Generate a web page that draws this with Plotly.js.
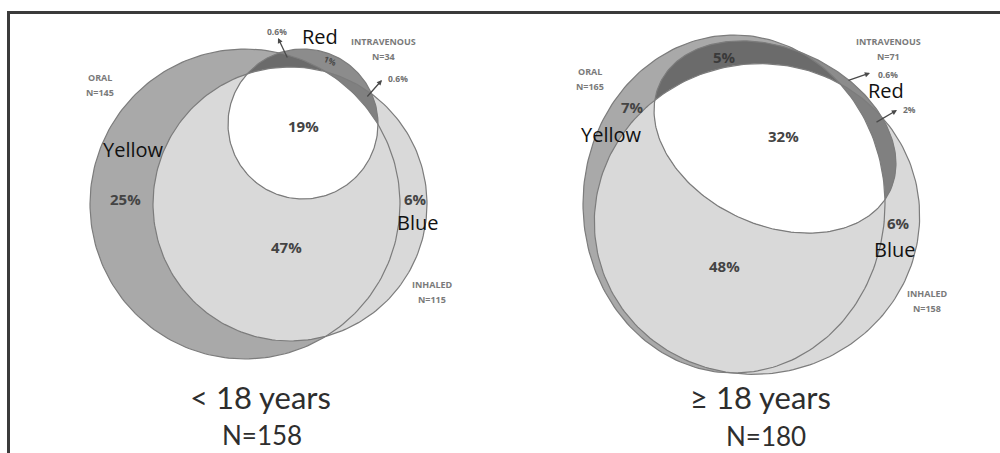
<!DOCTYPE html>
<html><head><meta charset="utf-8">
<script src="https://cdn.plot.ly/plotly-3.0.1.min.js"></script>
<style>html,body{margin:0;padding:0;background:#fff}#chart{width:1000px;height:453px}</style>
</head><body><div id="chart"></div>
<script>
// ---------------- data ----------------
const setNames = ['ORAL', 'INHALED', 'INTRAVENOUS'];
const colourTags = ['Yellow', 'Blue', 'Red'];
const panelTitles = ['< 18 years', '≥ 18 years'];
const panelTotals = [158, 180];
const setCountsYoung = [145, 115, 34];
const setCountsAdult = [165, 158, 71];
// region order: oralOnly, oral∩inhaled, inhaledOnly, all three, ivOnly, iv∩oral, iv∩inhaled
const regionKeys = ['oralOnly', 'oralInhaled', 'inhaledOnly', 'all', 'ivOnly', 'ivOral', 'ivInhaled'];
const sharesYoung = [25, 47, 6, 19, 1, 0.6, 0.6];
const sharesAdult = [7, 48, 6, 32, 0.6, 5, 2];

// ---------------- layout geometry (pixel-like axis units) ----------------
const panels = [
  {
    counts: setCountsYoung, shares: sharesYoung, title: panelTitles[0], total: panelTotals[0],
    shapes: {
      oral: {cx: 245, cy: 204, rx: 155, ry: 155, rot: 0},
      inhaled: {cx: 290, cy: 204, rx: 137, ry: 137, rot: 0},
      iv: {cx: 303, cy: 124, rx: 75, ry: 75, rot: 0}
    },
    setLabelPos: [[100, 77], [432, 284], [383, 41]],
    regionPos: {
      oralOnly: [125, 199, 15, 0, '#444444'], oralInhaled: [286, 247, 15, 0, '#444444'], inhaledOnly: [415, 199, 15, 0, '#444444'],
      all: [303, 126, 15, 0, '#444444'], ivOnly: [330, 60, 8.5, 22, '#4a4a4a'], ivOral: [277, 31, 8.5, 0, '#6f6f6f'], ivInhaled: [398, 78, 8.5, 0, '#6f6f6f']
    },
    arrows: {ivOral: [[288, 59], [278, 38]], ivInhaled: [[366, 98], [382, 80]]},
    tagPos: [[133, 149], [417, 222], [320, 36]],
    titlePos: [260, 397], totalPos: [262, 435]
  },
  {
    counts: setCountsAdult, shares: sharesAdult, title: panelTitles[1], total: panelTotals[1],
    shapes: {
      oral: {cx: 734, cy: 204, rx: 151, ry: 169, rot: 0},
      inhaled: {cx: 757, cy: 219, rx: 163, ry: 155, rot: -12},
      iv: {cx: 775, cy: 137, rx: 127, ry: 88, rot: 25}
    },
    setLabelPos: [[590, 71], [927, 293], [888, 41]],
    regionPos: {
      oralOnly: [632, 107, 15, 0, '#444444'], oralInhaled: [724, 266, 15, 0, '#444444'], inhaledOnly: [898, 223, 15, 0, '#444444'],
      all: [783, 136, 15, 0, '#444444'], ivOnly: [888, 74, 8.5, 0, '#6f6f6f'], ivOral: [724, 57, 15, 0, '#3a3a3a'], ivInhaled: [909, 109, 8.5, 0, '#6f6f6f']
    },
    arrows: {ivOnly: [[847, 81], [870, 73]], ivInhaled: [[875, 123], [897, 110]]},
    tagPos: [[611, 134], [894, 249], [886, 90]],
    titlePos: [760, 397], totalPos: [766, 436]
  }
];

const fills = {
  oral: '#a9a9a9', inhaled: '#d9d9d9', iv: '#8c8c8c',
  ivOral: '#6b6b6b', ivInhaled: '#808080', all: '#ffffff'
};
const outline = '#7c7c7c';

// ---------------- geometry helpers ----------------
function ellipse(e, n) {
  n = n || 240;
  const th = e.rot * Math.PI / 180, pts = [];
  for (let i = 0; i < n; i++) {
    const t = 2 * Math.PI * i / n;
    const px = e.rx * Math.cos(t), py = e.ry * Math.sin(t);
    pts.push([e.cx + px * Math.cos(th) - py * Math.sin(th), e.cy + px * Math.sin(th) + py * Math.cos(th)]);
  }
  return pts;
}
function area(p) { let s = 0; for (let i = 0; i < p.length; i++) { const a = p[i], b = p[(i + 1) % p.length]; s += a[0] * b[1] - b[0] * a[1]; } return s / 2; }
function clip(subject, clipPoly) {
  const sgn = area(clipPoly) > 0 ? 1 : -1;
  const inside = (p, a, b) => sgn * ((b[0] - a[0]) * (p[1] - a[1]) - (b[1] - a[1]) * (p[0] - a[0])) >= 0;
  const inter = (p, q, a, b) => {
    const A1 = q[1] - p[1], B1 = p[0] - q[0], C1 = A1 * p[0] + B1 * p[1];
    const A2 = b[1] - a[1], B2 = a[0] - b[0], C2 = A2 * a[0] + B2 * a[1];
    const d = A1 * B2 - A2 * B1;
    return [(B2 * C1 - B1 * C2) / d, (A1 * C2 - A2 * C1) / d];
  };
  let out = subject.slice();
  for (let i = 0; i < clipPoly.length && out.length; i++) {
    const a = clipPoly[i], b = clipPoly[(i + 1) % clipPoly.length];
    const inp = out; out = [];
    for (let j = 0; j < inp.length; j++) {
      const cur = inp[j], prev = inp[(j + inp.length - 1) % inp.length];
      const ci = inside(cur, a, b), pi = inside(prev, a, b);
      if (ci) { if (!pi) out.push(inter(prev, cur, a, b)); out.push(cur); }
      else if (pi) out.push(inter(prev, cur, a, b));
    }
  }
  return out;
}
function polyTrace(p, fill, lineColor, lineWidth) {
  const xs = p.map(q => q[0]), ys = p.map(q => q[1]);
  xs.push(p[0][0]); ys.push(p[0][1]);
  return {
    type: 'scatter', mode: 'lines', x: xs, y: ys, hoverinfo: 'skip', showlegend: false,
    fill: fill ? 'toself' : 'none', fillcolor: fill || 'rgba(0,0,0,0)',
    line: {color: lineColor || 'rgba(0,0,0,0)', width: lineWidth || 0}
  };
}

const traces = [], annotations = [];
const smallFont = {family: 'Open Sans, Arial, sans-serif', size: 9, color: '#7a7a7a', weight: 'bold'};
const pctFont = {family: 'Open Sans, Arial, sans-serif', size: 15, color: '#444444', weight: 'bold'};
const tagFont = {family: 'Open Sans, sans-serif', size: 20, color: '#111111'};
const titleFont = {family: 'Lato, Open Sans, sans-serif', size: 31, color: '#2e2e2e'};
const totalFont = {family: 'Lato, Open Sans, sans-serif', size: 26, color: '#2e2e2e'};

function addText(text, x, y, font, angle) {
  annotations.push({text: text, x: x, y: y, xref: 'x', yref: 'y', showarrow: false,
    xanchor: 'center', yanchor: 'middle', font: font, textangle: angle || 0});
}

panels.forEach(pn => {
  const O = ellipse(pn.shapes.oral), I = ellipse(pn.shapes.inhaled), V = ellipse(pn.shapes.iv);
  traces.push(polyTrace(O, fills.oral));
  traces.push(polyTrace(I, fills.inhaled));
  traces.push(polyTrace(V, fills.iv));
  const VO = clip(V, O), VI = clip(V, I), VOI = clip(VO, I);
  traces.push(polyTrace(VO, fills.ivOral));
  traces.push(polyTrace(VI, fills.ivInhaled));
  traces.push(polyTrace(VOI, fills.all));
  [O, I, V].forEach(p => traces.push(polyTrace(p, null, outline, 1.2)));

  setNames.forEach((nm, k) => {
    const [x, y] = pn.setLabelPos[k];
    addText(nm, x, y, smallFont);
    addText('N=' + pn.counts[k], x, y + 15, smallFont);
  });
  regionKeys.forEach((key, k) => {
    const [x, y, sz, ang, col] = pn.regionPos[key];
    const f = Object.assign({}, sz < 12 ? smallFont : pctFont, {size: sz, color: col});
    addText(pn.shares[k] + '%', x, y, f, ang);
  });
  Object.keys(pn.arrows).forEach(key => {
    const [tail, head] = pn.arrows[key];
    annotations.push({text: '', x: head[0], y: head[1], ax: tail[0], ay: tail[1],
      xref: 'x', yref: 'y', axref: 'x', ayref: 'y', showarrow: true,
      arrowhead: 2, arrowsize: 0.8, arrowwidth: 1.3, arrowcolor: '#4a4a4a', standoff: 0, startstandoff: 0});
  });
  colourTags.forEach((t, k) => addText(t, pn.tagPos[k][0], pn.tagPos[k][1], tagFont));
  addText(pn.title, pn.titlePos[0], pn.titlePos[1], titleFont);
  addText('N=' + pn.total, pn.totalPos[0], pn.totalPos[1], totalFont);
});

const layout = {
  width: 1000, height: 453, margin: {l: 0, r: 0, t: 0, b: 0},
  paper_bgcolor: '#ffffff', plot_bgcolor: '#ffffff', showlegend: false,
  xaxis: {range: [0, 1000], visible: false, fixedrange: true},
  yaxis: {range: [453, 0], visible: false, fixedrange: true},
  annotations: annotations,
  shapes: [
    {type: 'line', xref: 'x', yref: 'y', x0: 7, y0: 12.5, x1: 1000, y1: 12.5, line: {color: '#3b3b3b', width: 3}},
    {type: 'line', xref: 'x', yref: 'y', x0: 8.5, y0: 11, x1: 8.5, y1: 453, line: {color: '#3b3b3b', width: 3}}
  ]
};
Plotly.newPlot('chart', traces, layout, {staticPlot: true, displayModeBar: false});
</script></body></html>
